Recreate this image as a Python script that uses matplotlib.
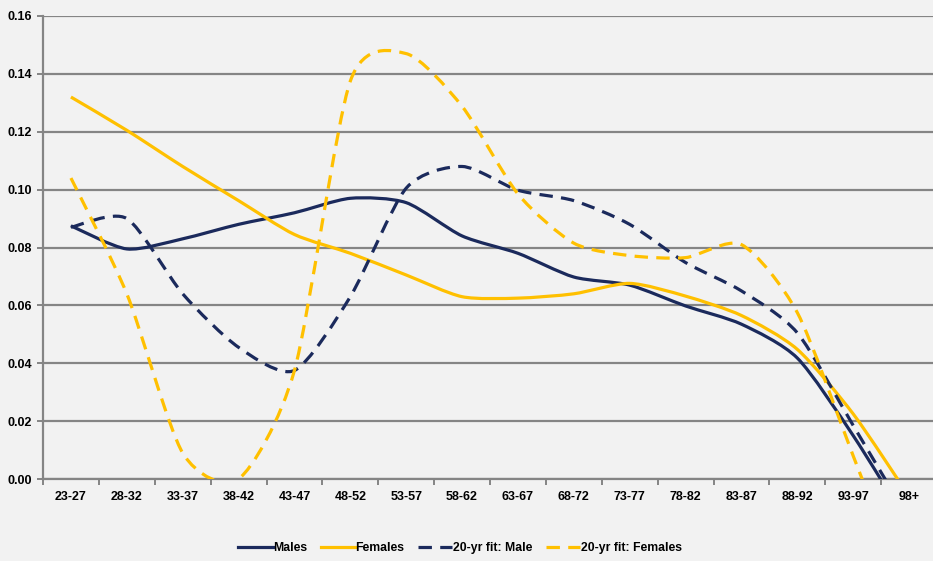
import matplotlib
matplotlib.use("Agg")
import matplotlib.pyplot as plt
from matplotlib.path import Path
from matplotlib.patches import PathPatch
from matplotlib.lines import Line2D
import numpy as np

categories = ["23-27", "28-32", "33-37", "38-42", "43-47", "48-52", "53-57", "58-62",
              "63-67", "68-72", "73-77", "78-82", "83-87", "88-92", "93-97", "98+"]

males = [0.0875, 0.0795, 0.083, 0.088, 0.092, 0.097, 0.0955, 0.084,
         0.078, 0.0698, 0.067, 0.0598, 0.0535, 0.0418, 0.015, -0.016]
females = [0.132, 0.1205, 0.108, 0.0962, 0.0845, 0.078, 0.0705, 0.063,
           0.0625, 0.064, 0.0676, 0.0632, 0.0565, 0.0448, 0.0225, -0.006]
fit_male = [0.087, 0.0900, 0.064, 0.0455, 0.0375, 0.063, 0.1005, 0.108,
            0.0998, 0.0962, 0.088, 0.0748, 0.065, 0.0505, 0.0185, -0.014]
fit_female = [0.104, 0.064, 0.009, 0.0, 0.0375, 0.1375, 0.147, 0.1288,
              0.0985, 0.0815, 0.0772, 0.0765, 0.081, 0.0575, 0.008, -0.042]

series_labels = ["Males", "Females", "20-yr fit: Male", "20-yr fit: Females"]
navy = "#1b2a5c"
gold = "#ffc000"
bg = "#f2f2f2"
gridc = "#858585"


def smooth_path(xs, ys, k=8.0):
    pts = np.column_stack([xs, ys]).astype(float)
    n = len(pts)
    verts = [pts[0]]
    codes = [Path.MOVETO]
    for i in range(n - 1):
        p0 = pts[i - 1] if i > 0 else pts[i]
        p1 = pts[i]
        p2 = pts[i + 1]
        p3 = pts[i + 2] if i + 2 < n else pts[i + 1]
        c1 = p1 + (p2 - p0) / k
        c2 = p2 - (p3 - p1) / k
        verts += [c1, c2, p2]
        codes += [Path.CURVE4] * 3
    return Path(verts, codes)


fig = plt.figure(figsize=(9.33, 5.61), dpi=100, facecolor=bg)
ax = fig.add_axes([43 / 933, 1 - 479 / 561, 894 / 933, (479 - 16) / 561])
ax.set_facecolor(bg)

x = np.arange(len(categories))
lw = 2.3
styles = [
    (males, navy, "-"),
    (females, gold, "-"),
    (fit_male, navy, (0, (4.2, 2.6))),
    (fit_female, gold, (0, (4.2, 2.6))),
]
handles = []
for (vals, col, ls), lab in zip(styles, series_labels):
    patch = PathPatch(smooth_path(x, vals), fill=False, edgecolor=col, lw=lw,
                      linestyle=ls, capstyle="butt", joinstyle="round", zorder=3)
    ax.add_patch(patch)
    handles.append(Line2D([], [], color=col, lw=lw, linestyle=ls, label=lab))

ax.set_xlim(-0.5, len(categories) - 0.5)
ax.set_ylim(0, 0.16)
ax.set_yticks(np.arange(0, 0.161, 0.02))
ax.yaxis.set_major_formatter(matplotlib.ticker.FormatStrFormatter("%.2f"))
ax.yaxis.grid(True, color=gridc, lw=1.6)
ax.set_axisbelow(True)

ax.set_xticks(x)
ax.set_xticklabels(categories)
ax.set_xticks(np.arange(-0.5, len(categories), 1.0), minor=True)
ax.tick_params(axis="x", which="major", length=0, pad=9)
ax.tick_params(axis="x", which="minor", length=4, width=1.4, color=gridc)
ax.tick_params(axis="y", length=4, width=1.4, color=gridc, pad=4)

fs = 9
for lab in ax.get_xticklabels() + ax.get_yticklabels():
    lab.set_fontsize(fs)
    lab.set_fontweight("bold")
    lab.set_family("Liberation Sans")
    lab.set_color("black")

for s in ["top", "right"]:
    ax.spines[s].set_visible(False)
for s in ["left", "bottom"]:
    ax.spines[s].set_color(gridc)
    ax.spines[s].set_linewidth(1.6)

leg = fig.legend(handles=handles, loc="center", bbox_to_anchor=(0.493, 1 - 548 / 561),
                 ncol=4, frameon=False, handlelength=2.8, columnspacing=1.1,
                 handletextpad=0.05, prop={"family": "Liberation Sans", "weight": "bold", "size": 8.8})

fig.savefig("out.png", dpi=100, facecolor=bg)
